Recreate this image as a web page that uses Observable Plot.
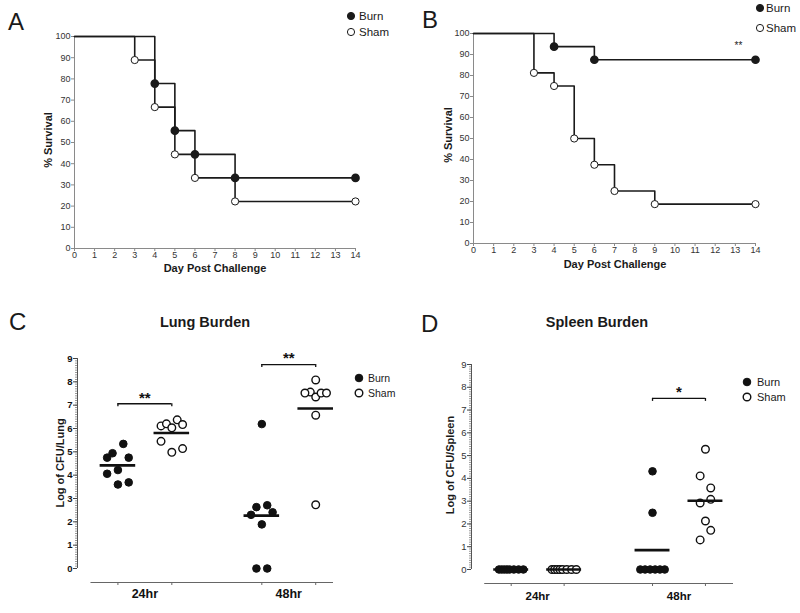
<!DOCTYPE html>
<html>
<head>
<meta charset="utf-8">
<script src="https://cdn.jsdelivr.net/npm/d3@7"></script>
<script src="https://cdn.jsdelivr.net/npm/@observablehq/plot@0.6"></script>
<style>
  html, body { margin: 0; padding: 0; background: #fff; }
  #wrap { position: relative; width: 800px; height: 613px; overflow: hidden; font-family: Arial, "Liberation Sans", sans-serif; }
  .panel { position: absolute; }
  #overlay { position: absolute; left: 0; top: 0; pointer-events: none; }
  #overlay text { font-family: Arial, "Liberation Sans", sans-serif; fill: #1a1a1a; }
</style>
</head>
<body>
<div id="wrap">
  <div class="panel" id="pA" style="left:0;top:0"></div>
  <div class="panel" id="pB" style="left:400px;top:0"></div>
  <div class="panel" id="pC" style="left:0;top:300px"></div>
  <div class="panel" id="pD" style="left:400px;top:300px"></div>
  <svg id="overlay" width="800" height="613">
    <!-- panel letters -->
    <text x="8" y="30" font-size="24">A</text>
    <text x="422" y="28" font-size="24">B</text>
    <text x="9" y="330" font-size="24">C</text>
    <text x="421" y="332" font-size="24">D</text>
    <!-- titles -->
    <text x="205" y="327" font-size="14.5" font-weight="bold" text-anchor="middle">Lung Burden</text>
    <text x="597" y="327" font-size="14.5" font-weight="bold" text-anchor="middle">Spleen Burden</text>
    <!-- axis titles -->
    <text x="215" y="272" font-size="11" font-weight="bold" text-anchor="middle">Day Post Challenge</text>
    <text x="615" y="268" font-size="11" font-weight="bold" text-anchor="middle">Day Post Challenge</text>
    <text transform="translate(52,140) rotate(-90)" font-size="11" font-weight="bold" text-anchor="middle">% Survival</text>
    <text transform="translate(452,135) rotate(-90)" font-size="11" font-weight="bold" text-anchor="middle">% Survival</text>
    <text transform="translate(64,463) rotate(-90)" font-size="11" font-weight="bold" text-anchor="middle">Log of CFU/Lung</text>
    <text transform="translate(454,465) rotate(-90)" font-size="11" font-weight="bold" text-anchor="middle">Log of CFU/Spleen</text>
    <!-- legends -->
    <circle cx="351" cy="16" r="3.6" fill="#1a1a1a" stroke="#1a1a1a"/>
    <text x="359" y="20" font-size="11.5">Burn</text>
    <circle cx="351" cy="32" r="3.6" fill="#fff" stroke="#1a1a1a" stroke-width="1"/>
    <text x="359" y="36" font-size="11.5">Sham</text>

    <circle cx="760" cy="8" r="3.6" fill="#1a1a1a" stroke="#1a1a1a"/>
    <text x="766" y="12" font-size="11.5">Burn</text>
    <circle cx="760" cy="28" r="3.6" fill="#fff" stroke="#1a1a1a" stroke-width="1"/>
    <text x="766" y="32" font-size="11.5">Sham</text>

    <circle cx="359" cy="378" r="3.8" fill="#111" stroke="#111"/>
    <text x="368" y="382" font-size="10.5">Burn</text>
    <circle cx="359" cy="393" r="3.8" fill="#fff" stroke="#111" stroke-width="1.4"/>
    <text x="368" y="397" font-size="10.5">Sham</text>

    <circle cx="747" cy="382" r="3.8" fill="#111" stroke="#111"/>
    <text x="757" y="386" font-size="11">Burn</text>
    <circle cx="747" cy="397" r="3.8" fill="#fff" stroke="#111" stroke-width="1.4"/>
    <text x="757" y="401" font-size="11">Sham</text>
  </svg>
</div>
<script>
// ---------- Panel A: survival (day, % survival) ----------
const dayA_burn  = [0, 4, 5, 6, 8, 14];
const survA_burn = [100, 77.8, 55.6, 44.4, 33.3, 33.3];
const dayA_sham  = [0, 3, 4, 5, 6, 8, 14];
const survA_sham = [100, 88.9, 66.7, 44.4, 33.3, 22.2, 22.2];

// ---------- Panel B ----------
const dayB_burn  = [0, 4, 6, 14];
const survB_burn = [100, 93.75, 87.5, 87.5];
const dayB_sham  = [0, 3, 4, 5, 6, 7, 9, 14];
const survB_sham = [100, 81.25, 75, 50, 37.5, 25, 18.75, 18.75];
const sigB = [{day: 13.15, surv: 94, label: "**"}];

const dayTicks  = d3.range(0, 15);
const survTicks = d3.range(0, 101, 10);

// ---------- Panel C: Lung burden (log CFU) ----------
const times  = ["24hr", "48hr"];
const groups = ["Burn", "Sham"];
const lungBurn24  = [4.75, 4.94, 5.34, 4.75, 4.06, 4.22, 3.60, 3.69];
const lungBurn24J = [-2, -1, 1, 2, -2, 0, 0, 2];
const lungSham24  = [6.11, 6.20, 6.03, 6.37, 6.17, 5.45, 4.98, 5.14];
const lungSham24J = [-2, -1, 0, 1, 2, -2, 0, 2];
const lungBurn48  = [6.19, 2.63, 2.71, 2.30, 2.41, 1.89, 0, 0];
const lungBurn48J = [0, -1, 1, -2, 2, 0, -1, 1];
const lungSham48  = [8.08, 7.56, 7.52, 7.35, 7.52, 7.52, 6.57, 2.73];
const lungSham48J = [0, -1, -2, 0, 1, 2, 0, 0];
const sigC = [{time: "24hr", y: 7.06, label: "**"}, {time: "48hr", y: 8.74, label: "**"}];

// ---------- Panel D: Spleen burden (log CFU) ----------
const splBurn24  = [0, 0, 0, 0, 0, 0, 0, 0];
const splBurn24J = [-2.3, -1.8, -1.3, -0.8, -0.3, 0.5, 1.4, 2.3];
const splSham24  = [0, 0, 0, 0, 0, 0, 0, 0];
const splSham24J = [-2.3, -1.8, -1.3, -0.8, -0.3, 0.5, 1.4, 2.3];
const splBurn48  = [4.31, 2.49, 0, 0, 0, 0, 0, 0];
const splBurn48J = [0, 0, -2.3, -1.4, -0.45, 0.5, 1.4, 2.3];
const splSham48  = [5.28, 4.11, 3.58, 3.08, 2.92, 2.13, 1.72, 1.30];
const splSham48J = [0, -1, 1, 1, -1, 0, 1, -1];
const sigD = [{time: "48hr", y: 7.51, label: "*"}];

const FONT = "Arial, 'Liberation Sans', sans-serif";
const INK = "#1a1a1a";

function series(days, surv) { return days.map((d, i) => ({day: d, surv: surv[i]})); }

function survival(el, burnD, burnS, shamD, shamS, m, sig) {
  const burn = series(burnD, burnS), sham = series(shamD, shamS);
  const marks = [
    Plot.ruleX([0], {stroke: "#8a8a8a"}),
    Plot.ruleY([0], {stroke: "#8a8a8a"}),
    Plot.axisY({ticks: survTicks, tickSize: 3, tickPadding: 1, stroke: "#8a8a8a", fill: "#333", label: null, fontSize: 9}),
    Plot.axisX({ticks: dayTicks, tickSize: 3, tickPadding: 0, stroke: "#8a8a8a", fill: "#333", label: null, fontSize: 9}),
    Plot.line(sham, {x: "day", y: "surv", curve: "step-after", stroke: INK, strokeWidth: 1.6}),
    Plot.line(burn, {x: "day", y: "surv", curve: "step-after", stroke: INK, strokeWidth: 1.6}),
    Plot.dot(sham.filter(d => d.day > 0), {x: "day", y: "surv", r: 3.6, fill: "white", stroke: INK, strokeWidth: 1}),
    Plot.dot(burn.filter(d => d.day > 0), {x: "day", y: "surv", r: 3.6, fill: INK, stroke: INK})
  ];
  if (sig) marks.push(Plot.text(sig, {x: "day", y: "surv", text: "label", fontSize: 10, fill: "#222"}));
  const p = Plot.plot({
    width: 400, height: 290,
    marginTop: m[0], marginRight: m[1], marginBottom: m[2], marginLeft: m[3],
    x: {domain: [0, 14], label: null},
    y: {domain: [0, 100], label: null},
    style: {fontFamily: FONT, fontSize: "9px", color: "#333", background: "transparent", overflow: "visible"},
    marks
  });
  document.getElementById(el).appendChild(p);
}

function rows(time, group, vals, jit) {
  return vals.map((v, i) => ({time, group, v, j: jit[i]}));
}

function burden(el, data, sig, opts) {
  const timePos = {"24hr": 1, "48hr": 3.67};
  const pos = d => timePos[d.time] + (d.group === "Sham" ? 1 : 0);
  const catTicks = [1, 2, 3.67, 4.67];
  const mids = [1.5, 4.17];
  const means = [];
  for (const t of times) for (const g of groups) {
    const vs = data.filter(d => d.time === t && d.group === g).map(d => d.v);
    means.push({time: t, group: g, m: d3.mean(vs)});
  }
  const ends = sig.flatMap(s => [{x: timePos[s.time], y: s.y}, {x: timePos[s.time] + 1, y: s.y}]);
  const p = Plot.plot({
    width: 400, height: 313,
    marginTop: opts.m[0], marginRight: opts.m[1], marginBottom: opts.m[2], marginLeft: opts.m[3],
    x: {domain: opts.xdom, label: null},
    y: {domain: [opts.ymin, 9], label: null},
    style: {fontFamily: FONT, fontSize: "9px", color: "#222", background: "transparent", overflow: "visible"},
    marks: [
      Plot.ruleX([opts.xdom[0]], {y1: 0, y2: 9, stroke: "#555"}),
      Plot.axisY({ticks: d3.range(0, 9.001, 0.1), tickSize: 2, tickFormat: () => "", stroke: "#9a9a9a", label: null}),
      Plot.axisY({ticks: d3.range(0, 10), tickSize: 4, tickPadding: 1, stroke: "#444", fill: opts.tickFill, fontWeight: opts.tickWeight, fontSize: 9.5, label: null}),
      Plot.ruleY([opts.ymin], {x1: 0.5, x2: opts.xdom[1], stroke: "#666"}),
      Plot.axisX({ticks: catTicks, tickSize: 3, tickFormat: () => "", stroke: "#666", label: null}),
      Plot.axisX({ticks: mids, tickSize: 0, tickPadding: opts.labPad, tickFormat: d => times[mids.indexOf(d)], fontWeight: "bold", fontSize: opts.labSize, fill: "#111", label: null}),
      Plot.dot(data.filter(d => d.group === "Burn"), {x: d => pos(d) + d.j * 0.1, y: "v", r: 3.8, fill: "#111", stroke: "#111", strokeWidth: 1}),
      Plot.dot(data.filter(d => d.group === "Sham"), {x: d => pos(d) + d.j * 0.1, y: "v", r: 3.8, fill: "white", stroke: "#111", strokeWidth: 1.4}),
      Plot.ruleY(means, {y: "m", x1: d => pos(d) - 0.33, x2: d => pos(d) + 0.33, stroke: "#111", strokeWidth: 2.6}),
      Plot.ruleY(sig, {y: "y", x1: d => timePos[d.time], x2: d => timePos[d.time] + 1, stroke: "#111", strokeWidth: 1.3}),
      Plot.ruleX(ends, {x: "x", y1: "y", y2: d => d.y - 0.13, stroke: "#111", strokeWidth: 1.3}),
      Plot.text(sig, {x: d => timePos[d.time] + 0.5, y: "y", text: "label", dy: -6, fontSize: 15, fontWeight: "bold", fill: "#111"})
    ]
  });
  document.getElementById(el).appendChild(p);
}

survival("pA", dayA_burn, survA_burn, dayA_sham, survA_sham, [36, 45, 42, 74], null);
survival("pB", dayB_burn, survB_burn, dayB_sham, survB_sham, [33, 45, 47, 73], sigB);

const lungData = [
  ...rows("24hr", "Burn", lungBurn24, lungBurn24J),
  ...rows("24hr", "Sham", lungSham24, lungSham24J),
  ...rows("48hr", "Burn", lungBurn48, lungBurn48J),
  ...rows("48hr", "Sham", lungSham48, lungSham48J)
];
const splData = [
  ...rows("24hr", "Burn", splBurn24, splBurn24J),
  ...rows("24hr", "Sham", splSham24, splSham24J),
  ...rows("48hr", "Burn", splBurn48, splBurn48J),
  ...rows("48hr", "Sham", splSham48, splSham48J)
];

burden("pC", lungData, sigC, {m: [58, 67, 31, 77], xdom: [0.25, 5.0], ymin: -0.6, tickFill: "#111", tickWeight: "bold", labPad: 7, labSize: 12.5});
burden("pD", splData, sigD, {m: [64, 67, 30, 71], xdom: [0.25, 5.2], ymin: -0.615, tickFill: "#333", tickWeight: "normal", labPad: 8, labSize: 11.5});
</script>
</body>
</html>
